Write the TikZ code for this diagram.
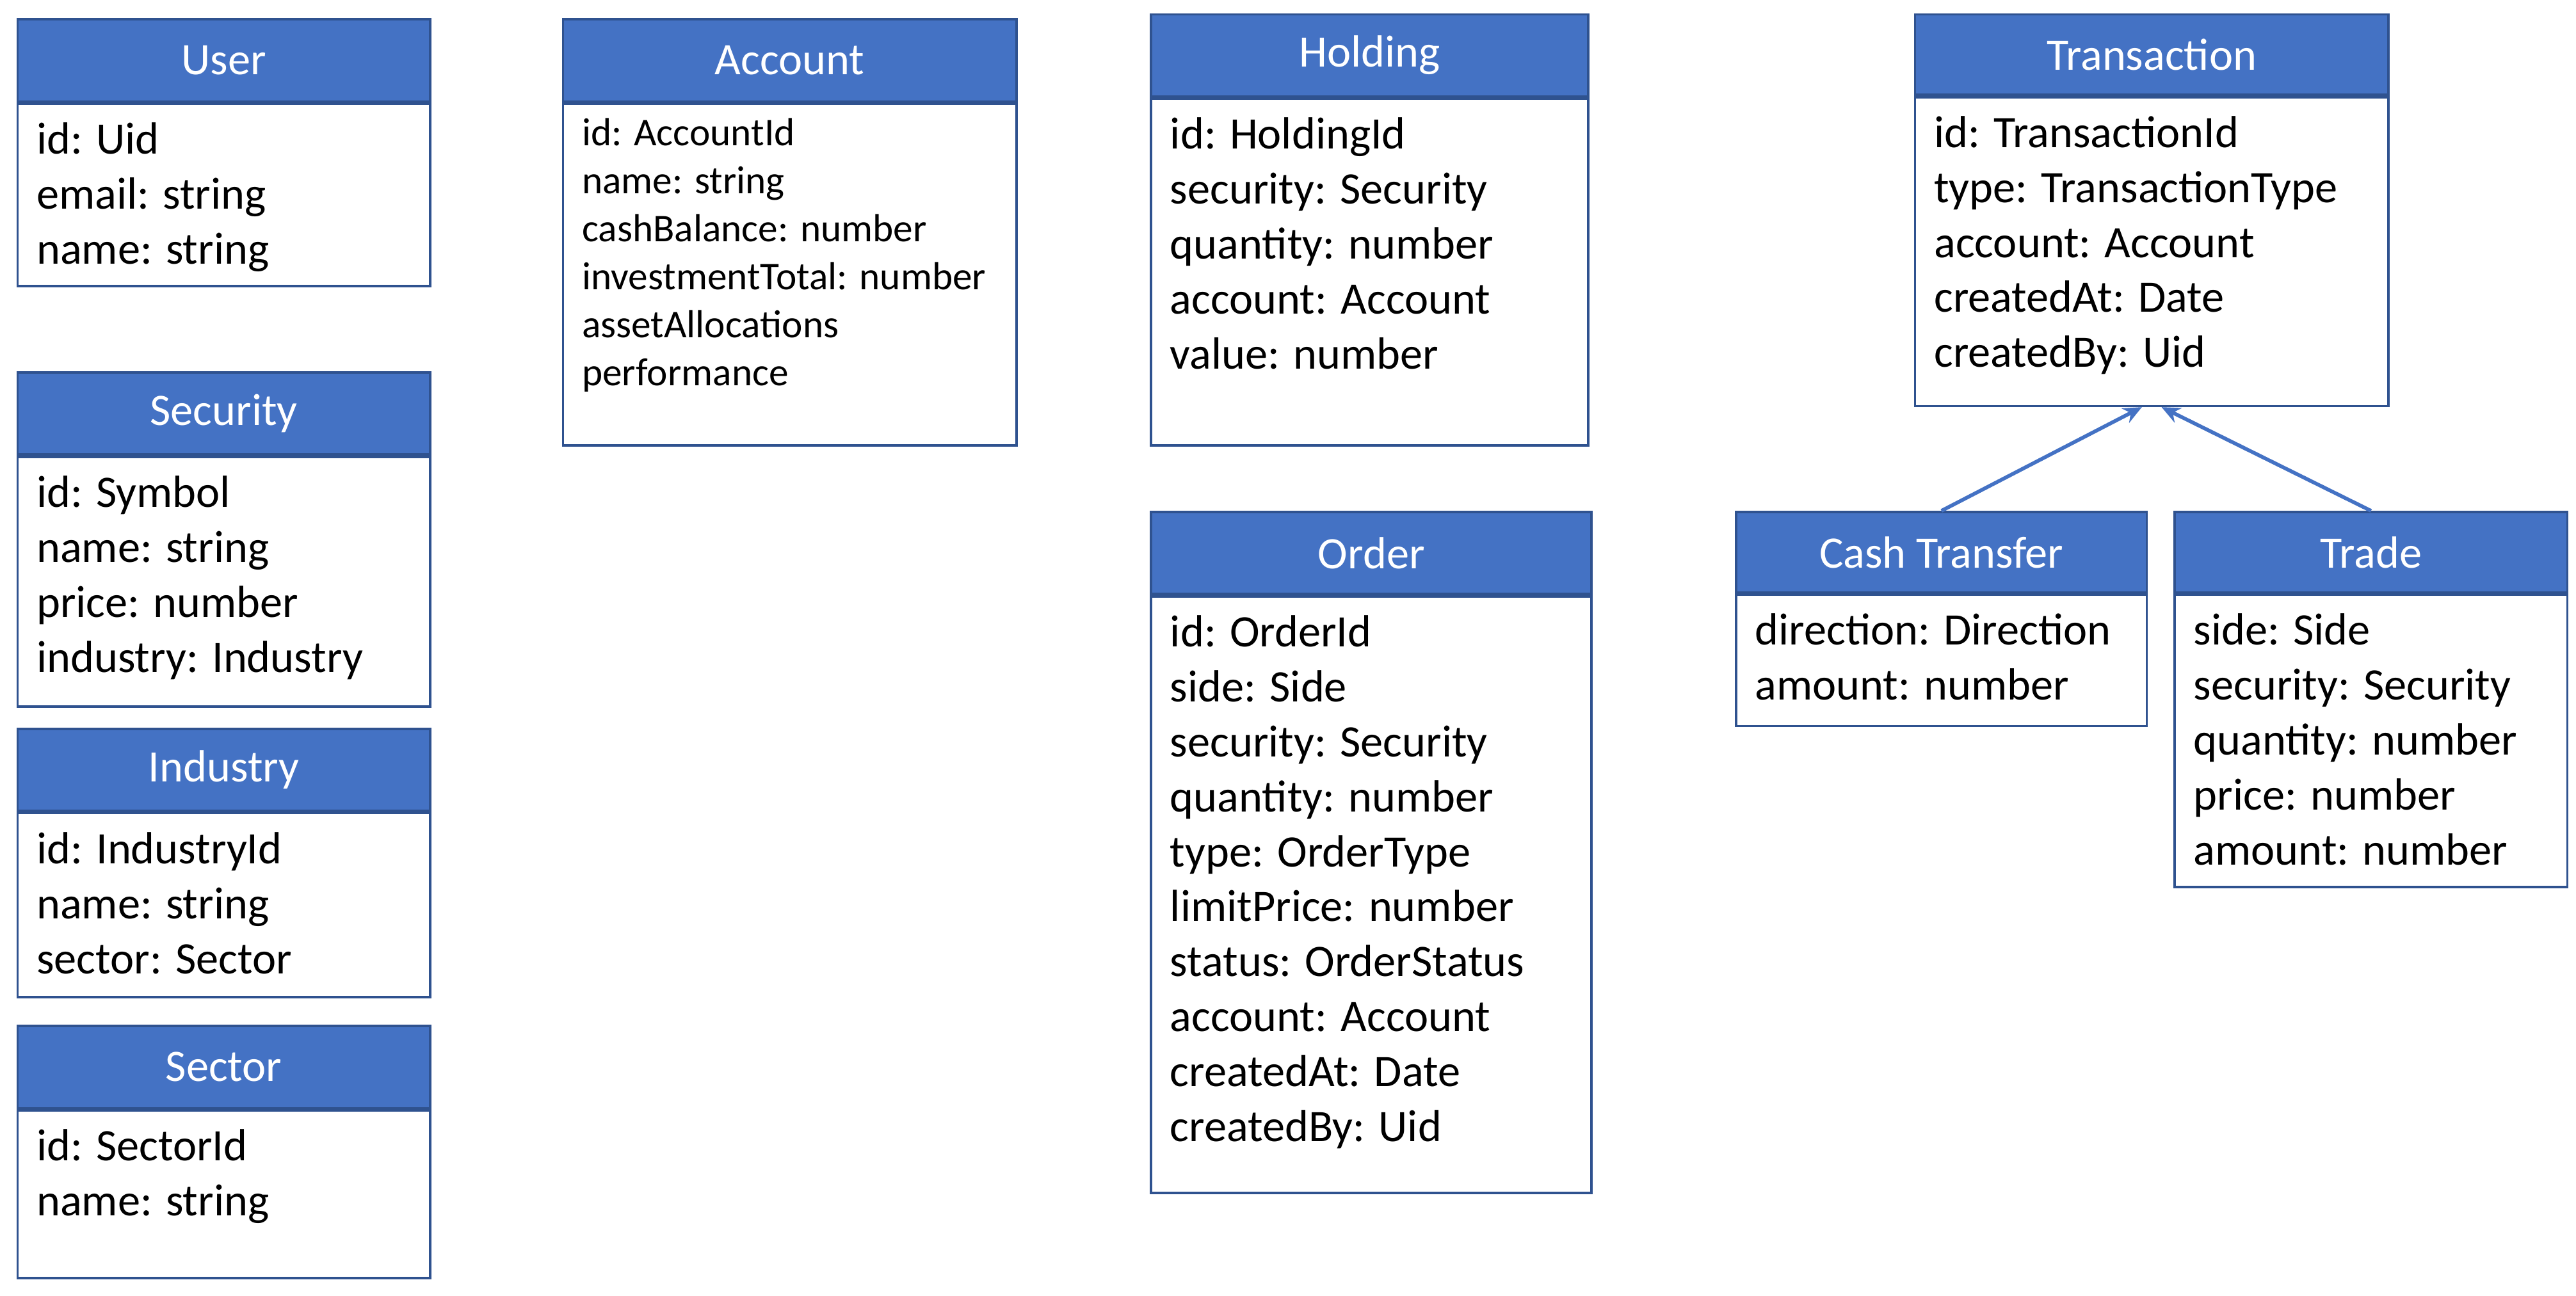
\documentclass[tikz,border=0pt]{standalone}
\usepackage{fontspec}
\setmainfont{Carlito}
\usepackage{xcolor}
\usepackage{tikz}
\usetikzlibrary{positioning,arrows.meta}
\definecolor{hdrblue}{HTML}{4472C4}
\definecolor{edgeblue}{HTML}{2F528F}
\newcommand{\fieldfont}{\fontsize{19.5}{23.8}\selectfont}
\newcommand{\smallfieldfont}{\fontsize{17}{20.8}\selectfont}
\tikzset{
  hdr/.style={draw=edgeblue,fill=hdrblue,text=white,anchor=north west,inner sep=0pt,line width=1pt,minimum height=1.25cm,font=\fieldfont},
  body/.style={draw=edgeblue,fill=white,anchor=north,inner sep=0pt,line width=1pt},
  fields/.style={anchor=north west,align=left,inner sep=0pt,font=\fieldfont,xshift=0.3cm,yshift=-0.3cm},
  arr/.style={-{Stealth[length=8pt,width=7pt]},draw=hdrblue,line width=1.6pt},
}

\begin{document}
\begin{tikzpicture}[x=0.025cm,y=-0.025cm]
\useasboundingbox (0,0) rectangle (1568,789);

% left column
\node[hdr, minimum width=6.275cm] (user) at (10,11) {User};
\node[body, below=0pt of user, minimum width=6.275cm, minimum height=2.775cm] (userbody) {};
\node[fields] (userfields) at (userbody.north west) {id: Uid\\email: string\\name: string};

\node[hdr, minimum width=6.275cm] (security) at (10,226) {Security};
\node[body, below=0pt of security, minimum width=6.275cm, minimum height=3.8cm] (securitybody) {};
\node[fields] (securityfields) at (securitybody.north west) {id: Symbol\\name: string\\price: number\\industry: Industry};

\node[hdr, minimum width=6.275cm] (industry) at (10,443) {Industry};
\node[body, below=0pt of industry, minimum width=6.275cm, minimum height=2.8cm] (industrybody) {};
\node[fields] (industryfields) at (industrybody.north west) {id: IndustryId\\name: string\\sector: Sector};

\node[hdr, minimum width=6.275cm] (sector) at (10,624) {Sector};
\node[body, below=0pt of sector, minimum width=6.275cm, minimum height=2.55cm] (sectorbody) {};
\node[fields] (sectorfields) at (sectorbody.north west) {id: SectorId\\name: string};

% account
\node[hdr, minimum width=6.9cm] (account) at (342,11) {Account};
\node[body, below=0pt of account, minimum width=6.9cm, minimum height=5.2cm] (accountbody) {};
\node[fields, font=\smallfieldfont, yshift=0.07cm] (accountfields) at (accountbody.north west) {id: AccountId\\name: string\\cashBalance: number\\investmentTotal: number\\assetAllocations\\performance};

% holding and order
\node[hdr, minimum width=6.65cm] (holding) at (700,8) {Holding};
\node[body, below=0pt of holding, minimum width=6.65cm, minimum height=5.275cm] (holdingbody) {};
\node[fields] (holdingfields) at (holdingbody.north west) {id: HoldingId\\security: Security\\quantity: number\\account: Account\\value: number};

\node[hdr, minimum width=6.7cm] (order) at (700,311) {Order};
\node[body, below=0pt of order, minimum width=6.7cm, minimum height=9.075cm] (orderbody) {};
\node[fields] (orderfields) at (orderbody.north west) {id: OrderId\\side: Side\\security: Security\\quantity: number\\type: OrderType\\limitPrice: number\\status: OrderStatus\\account: Account\\createdAt: Date\\createdBy: Uid};

% transaction and its subtypes
\node[hdr, minimum width=7.2cm, minimum height=1.225cm] (transaction) at (1165,8) {Transaction};
\node[body, below=0pt of transaction, minimum width=7.2cm, minimum height=4.7cm] (transactionbody) {};
\node[fields] (transactionfields) at (transactionbody.north west) {id: TransactionId\\type: TransactionType\\account: Account\\createdAt: Date\\createdBy: Uid};

\node[hdr, minimum width=6.25cm, minimum height=1.225cm] (cash) at (1056,311) {Cash Transfer};
\node[body, below=0pt of cash, minimum width=6.25cm, minimum height=2cm] (cashbody) {};
\node[fields] (cashfields) at (cashbody.north west) {direction: Direction\\amount: number};

\node[hdr, minimum width=5.975cm, minimum height=1.225cm] (trade) at (1323,311) {Trade};
\node[body, below=0pt of trade, minimum width=5.975cm, minimum height=4.45cm] (tradebody) {};
\node[fields] (tradefields) at (tradebody.north west) {side: Side\\security: Security\\quantity: number\\price: number\\amount: number};

\draw[arr] (cash.north) -- ([xshift=-0.15cm]transactionbody.south);
\draw[arr] (trade.north) -- ([xshift=0.15cm]transactionbody.south);
\end{tikzpicture}
\end{document}
